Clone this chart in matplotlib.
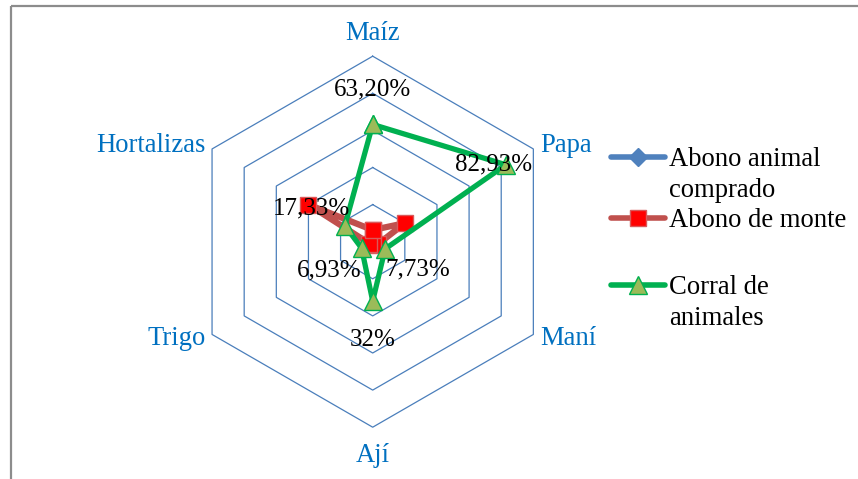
import numpy as np
import matplotlib.pyplot as plt
from matplotlib.patches import Rectangle

plt.rcParams['font.family'] = ['Liberation Serif', 'DejaVu Serif']

categories = ["Maíz", "Papa", "Maní", "Ají", "Trigo", "Hortalizas"]
abono_comprado = [0.0, 0.0, 0.0, 0.0, 0.0, 0.0]
abono_monte = [0.063, 0.20, 0.03, 0.02, 0.02, 0.40]
corral = [0.632, 0.8293, 0.0773, 0.32, 0.0693, 0.1733]
corral_labels = ["63,20%", "82,93%", "7,73%", "32%", "6,93%", "17,33%"]
series_names = ["Abono animal\ncomprado", "Abono de monte", "Corral de\nanimales"]
ring_levels = [0.2, 0.4, 0.6, 0.8, 1.0]

W, H = 858, 479
fig = plt.figure(figsize=(W / 100, H / 100), dpi=100)

# radar area: centre (372.7, 241.7) px, radius 185.5 px
cx, cy, rad = 372.7, 241.7, 185.5
ax = fig.add_axes([(cx - rad) / W, (H - cy - rad) / H, 2 * rad / W, 2 * rad / H],
                  projection='polar')
ax.set_theta_offset(np.pi / 2)
ax.set_theta_direction(-1)
ax.set_ylim(0, 1)
ax.grid(False)
ax.set_xticks([])
ax.set_yticks([])
ax.spines['polar'].set_visible(False)
ax.patch.set_visible(False)

angles = np.linspace(0, 2 * np.pi, len(categories), endpoint=False)
closed = np.append(angles, angles[0])

grid_col = '#4A7EBB'
for lv in ring_levels:
    ax.plot(closed, [lv] * len(closed), color=grid_col, lw=0.9, zorder=1, clip_on=False)

def close(v):
    return list(v) + [v[0]]

ax.plot(closed, close(abono_comprado), color='#4F81BD', lw=3.8, marker='D', ms=9,
        mfc='#4F81BD', mec='#4F81BD', zorder=3, clip_on=False)
ax.plot(closed, close(abono_monte), color='#C0504D', lw=4.5, marker='s', ms=11.5,
        mfc='#FF0000', mec='#D9595A', mew=1, zorder=4, clip_on=False)
ax.plot(closed, close(corral), color='#00B050', lw=3.8, marker='^', ms=13,
        mfc='#9BBB59', mec='#00B050', mew=1, zorder=5, clip_on=False)

# category labels
lab_col = '#0070C0'
cat_r = [1.124, 1.04, 1.04, 1.15, 1.04, 1.04]
cat_ha = ['center', 'left', 'left', 'center', 'right', 'right']
for a, name, r, ha in zip(angles, categories, cat_r, cat_ha):
    ax.text(a, r, name, ha=ha, va='center', fontsize=19.2, color=lab_col)

# data labels for "Corral de animales"
lab_off = [(0, 35), (-12, 0), (0, -21), (0, -39), (0, -22), (5, 17)]
lab_ha = ['center', 'center', 'left', 'center', 'right', 'right']
for a, v, t, off, ha in zip(angles, corral, corral_labels, lab_off, lab_ha):
    ax.annotate(t, (a, v), xytext=off, textcoords='offset pixels', ha=ha,
                va='center', fontsize=18, color='black', zorder=6)

# overlay in pixel coordinates for frame and legend
ov = fig.add_axes([0, 0, 1, 1])
ov.set_xlim(0, W)
ov.set_ylim(H, 0)
ov.axis('off')
ov.patch.set_visible(False)
ov.add_patch(Rectangle((11, 6), W, H, fill=False, ec='#8C8C8C', lw=1.6))

leg_y = [157, 218, 285]
leg_col = ['#4F81BD', '#C0504D', '#00B050']
leg_mk = [dict(marker='D', ms=9, mfc='#4F81BD', mec='#4F81BD'),
          dict(marker='s', ms=11.5, mfc='#FF0000', mec='#D9595A'),
          dict(marker='^', ms=13, mfc='#9BBB59', mec='#00B050')]
for y, name, col, mk in zip(leg_y, series_names, leg_col, leg_mk):
    ov.plot([611, 665], [y, y], lw=4, color=col, solid_capstyle='round')
    ov.plot([638], [y], ls='none', **mk)
    ov.text(669, y - 10, name, ha='left', va='top', fontsize=19.2,
            linespacing=1.3, color='black')

fig.savefig('out.png', dpi=100)
